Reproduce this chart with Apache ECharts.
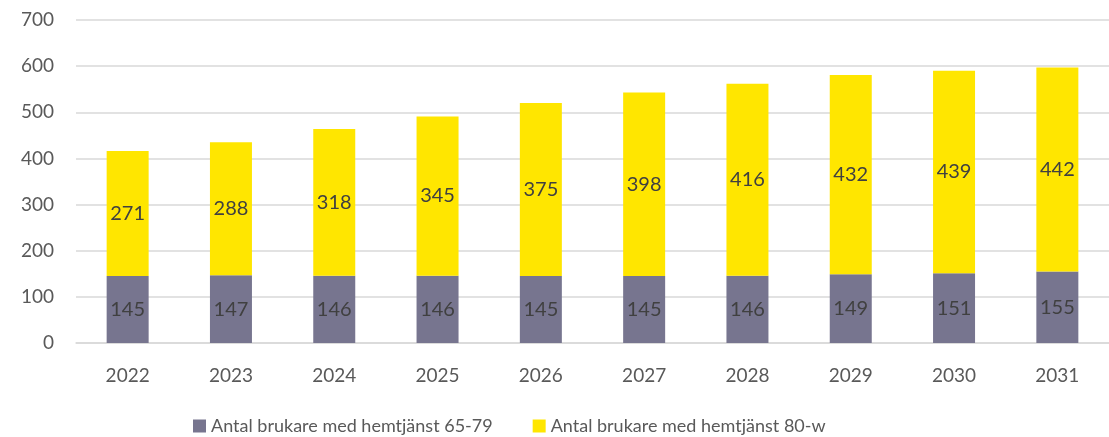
<!DOCTYPE html>
<html>
<head>
<meta charset="utf-8">
<script src="https://cdn.jsdelivr.net/npm/echarts@6/dist/echarts.min.js"></script>
<style>
  html, body { margin: 0; padding: 0; background: #fff; }
  #chart { width: 1109px; height: 437px; }
</style>
</head>
<body>
<div id="chart"></div>
<script>
  const years = ['2022', '2023', '2024', '2025', '2026', '2027', '2028', '2029', '2030', '2031'];
  const users6579 = [145, 147, 146, 146, 145, 145, 146, 149, 151, 155];
  const users80w = [271, 288, 318, 345, 375, 398, 416, 432, 439, 442];
  const seriesNames = ['Antal brukare med hemtjänst 65-79', 'Antal brukare med hemtjänst 80-w'];

  const font = 'Lato, "Open Sans", sans-serif';
  const chart = echarts.init(document.getElementById('chart'), null, { renderer: 'canvas' });

  const barLabel = {
    show: true,
    position: 'inside',
    color: '#404040',
    fontFamily: font,
    fontSize: 20
  };

  chart.setOption({
    animation: false,
    textStyle: { fontFamily: font },
    grid: { left: 76, top: 20, width: 1052, height: 323 },
    legend: {
      top: 412,
      left: 188,
      itemWidth: 13,
      itemHeight: 13,
      itemGap: 40,
      icon: 'rect',
      textStyle: { color: '#595959', fontSize: 18, fontFamily: font },
      data: seriesNames
    },
    xAxis: {
      type: 'category',
      data: years,
      axisLine: { show: true, lineStyle: { color: '#d9d9d9', width: 1.5 } },
      axisTick: { show: false },
      axisLabel: { color: '#595959', fontSize: 19, margin: 23, fontFamily: font }
    },
    yAxis: {
      type: 'value',
      min: 0,
      max: 700,
      interval: 100,
      axisLine: { show: false },
      axisTick: { show: false },
      axisLabel: { color: '#595959', fontSize: 19, margin: 22, fontFamily: font },
      splitLine: { lineStyle: { color: '#d9d9d9', width: 1.5 } }
    },
    series: [
      {
        name: seriesNames[0],
        type: 'bar',
        stack: 'total',
        barWidth: 42,
        data: users6579,
        itemStyle: { color: '#77758f' },
        label: barLabel
      },
      {
        name: seriesNames[1],
        type: 'bar',
        stack: 'total',
        barWidth: 42,
        data: users80w,
        itemStyle: { color: '#ffe600' },
        label: barLabel
      }
    ]
  });
</script>
</body>
</html>
